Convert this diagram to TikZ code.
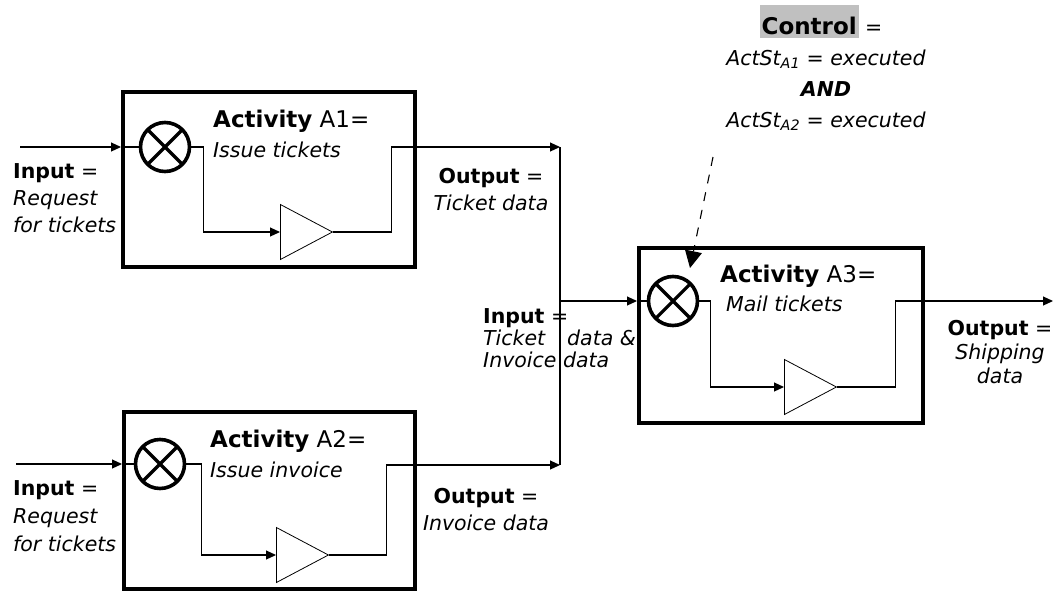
\documentclass[tikz,border=0pt]{standalone}
\usepackage{fontspec}
\setmainfont{DejaVu Sans}
\usetikzlibrary{shapes.geometric, arrows.meta, positioning}
\definecolor{ctrlgray}{RGB}{192,192,192}
\newcommand{\bigbf}[1]{{\fontsize{23}{30}\selectfont\textbf{#1}}}
\newcommand{\acttitle}[1]{{\fontsize{23}{30}\selectfont\textbf{Activity} #1}}

\begin{document}
\begin{tikzpicture}[
    x=1pt, y=-1pt,
    actbox/.style={rectangle, draw, line width=4pt, inner sep=0pt},
    gate/.style={circle, draw, line width=3.6pt, minimum size=49pt, inner sep=0pt,
                 path picture={\draw[line width=3.2pt]
                   (path picture bounding box.north west) -- (path picture bounding box.south east)
                   (path picture bounding box.north east) -- (path picture bounding box.south west);}},
    amp/.style={isosceles triangle, isosceles triangle stretches, draw, line width=0.8pt,
                minimum width=55pt, minimum height=52pt, inner sep=0pt, anchor=west},
    wire/.style={line width=1.1pt},
    flow/.style={wire, -{Triangle[length=10pt, width=9pt]}},
    ctrlflow/.style={line width=1.1pt, dash pattern=on 9pt off 9pt,
                     -{Triangle[length=17pt, width=17pt]}},
    lbl/.style={font=\fontsize{20.5}{#1}\selectfont, inner sep=0pt,
                align=left, anchor=base west},
    lbl/.default=27,
]
\useasboundingbox (0,0) rectangle (1055,592);

% activity boxes
\node[actbox, minimum width=292pt, minimum height=175pt] (A1) at (269,179.5) {};
\node[actbox, minimum width=291pt, minimum height=177pt] (A2) at (269.5,500.5) {};
\node[actbox, minimum width=284pt, minimum height=175pt] (A3) at (781,335.5) {};

% gates and amplifiers
\node[gate] (g1) at (165,147) {};
\node[gate] (g2) at (160,464) {};
\node[gate] (g3) at (673,301) {};
\node[amp] (t1) at (280,232) {};
\node[amp] (t2) at (276,555) {};
\node[amp] (t3) at (784,387) {};

% junction points
\coordinate (in1) at (20,147);
\coordinate (in2) at (16,464);
\coordinate (j1) at (560,147);
\coordinate (j2) at (560,465);
\coordinate (j3) at (560,301);
\coordinate (out3) at (1053,301);
\coordinate (c0) at (713,157);
\coordinate (c1) at (690,268);

% activity A1
\draw[flow] (in1) -- (in1 -| A1.west);
\draw[wire] (in1 -| A1.west) -- (g1.west);
\draw[flow] (g1.east) -- ++(12,0) |- (t1.west);
\draw[flow] (t1.apex) -- ++(58,0) |- (j1);

% activity A2
\draw[flow] (in2) -- (in2 -| A2.west);
\draw[wire] (in2 -| A2.west) -- (g2.west);
\draw[flow] (g2.east) -- ++(15,0) |- (t2.west);
\draw[flow] (t2.apex) -- ++(57,0) |- (j2);

% merge into A3
\draw[wire] (j1) -- (j2);
\draw[flow] (j3) -- (j3 -| A3.west);
\draw[wire] (j3 -| A3.west) -- (g3.west);
\draw[flow] (g3.east) -- ++(11,0) |- (t3.west);
\draw[flow] (t3.apex) -- ++(58,0) |- (out3);

% control
\draw[ctrlflow] (c0) -- (c1);

% labels (base = last line)
\node[lbl=30] (act1) at (213,157) {\acttitle{A1=}\\\textit{Issue tickets}};
\node[lbl=30] (act2) at (210,477) {\acttitle{A2=}\\\textit{Issue invoice}};
\node[lbl=29] (act3) at (720,311) {\acttitle{A3=}\\\hspace*{6pt}\textit{Mail tickets}};
\node[lbl] (lin1) at (13,232) {\textbf{Input} =\\\textit{Request}\\\textit{for tickets}};
\node[lbl=28] (lin2) at (13,551) {\textbf{Input} =\\\textit{Request}\\\textit{for tickets}};
\node[lbl, align=center, anchor=base] (lout1) at (491,210) {\textbf{Output} =\\\textit{Ticket data}};
\node[lbl, align=center, anchor=base] (lout2) at (486,530) {\textbf{Output} =\\\textit{Invoice data}};
\node[lbl=22] (lin3) at (483,367) {\textbf{Input} =\\\textit{Ticket\hspace{22pt}data \&}\\\textit{Invoice data}};
\node[lbl=24, align=center, anchor=base] (lout3) at (1000,383) {\textbf{Output} =\\\textit{Shipping}\\\textit{data}};
\node[lbl=31, align=center, anchor=base] (ctrl) at (826,127)
  {\setlength{\fboxsep}{2pt}\colorbox{ctrlgray}{\rule[-2pt]{0pt}{29pt}\bigbf{Control}} =\hspace*{10pt}\\
   \textit{ActSt\textsubscript{A1} = executed}\\
   \textbf{\textit{AND}}\\
   \textit{ActSt\textsubscript{A2} = executed}};
\end{tikzpicture}
\end{document}
